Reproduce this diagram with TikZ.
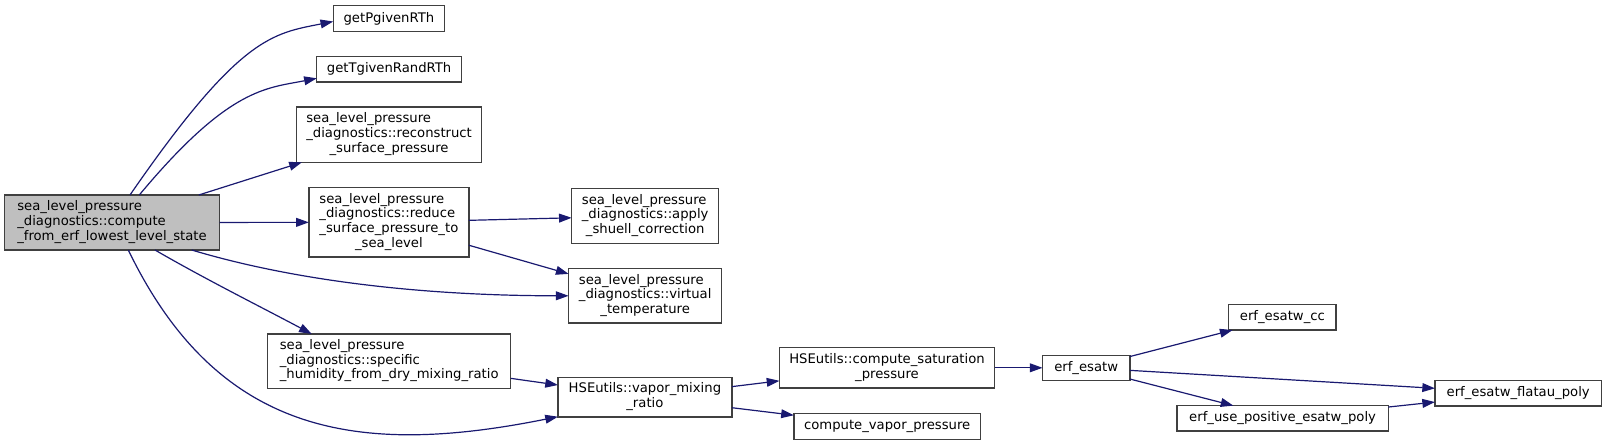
\documentclass[tikz,border=0pt]{standalone}
\usepackage{fontspec}
\setmainfont{DejaVu Sans}
\usetikzlibrary{arrows.meta,calc}
\definecolor{edgeblue}{HTML}{191970}
\definecolor{boxline}{HTML}{404040}
\definecolor{rootfill}{HTML}{BFBFBF}
\newcommand{\mlab}[2]{\begin{tabular}{@{}l@{}}#1\\\multicolumn{1}{@{}c@{}}{#2}\end{tabular}}
\tikzset{
  fn/.style={draw=boxline, line width=1pt, fill=white, inner sep=0pt, outer sep=0pt,
    font=\fontsize{9.9}{11.06}\selectfont, align=center},
  root/.style={fn, fill=rootfill},
  call/.style={draw=edgeblue, line width=0.9pt, -{Triangle[length=9.5pt,width=6.6pt]}}
}
\begin{document}
\begin{tikzpicture}[x=0.75pt,y=-0.75pt]
\useasboundingbox (0,0) rectangle (1607,445);
% nodes (screen px coordinates)
\node[root, minimum width=215*0.75pt, minimum height=55*0.75pt] (main) at (112,222.5)
  {\mlab{sea\_level\_pressure\\\_diagnostics::compute}{\_from\_erf\_lowest\_level\_state}};
\node[fn, minimum width=111.4*0.75pt, minimum height=26*0.75pt] (getP) at (388.9,18.7) {getPgivenRTh};
\node[fn, minimum width=144.6*0.75pt, minimum height=25.3*0.75pt] (getT) at (389.1,69.3) {getTgivenRandRTh};
\node[fn, minimum width=184.6*0.75pt, minimum height=55.3*0.75pt] (recon) at (389.1,134.7)
  {\mlab{sea\_level\_pressure\\\_diagnostics::reconstruct}{\_surface\_pressure}};
\node[fn, minimum width=160*0.75pt, minimum height=69.3*0.75pt] (reduce) at (388.9,222.3)
  {\mlab{sea\_level\_pressure\\\_diagnostics::reduce\\\_surface\_pressure\_to}{\_sea\_level}};
\node[fn, minimum width=243*0.75pt, minimum height=54.7*0.75pt] (spec) at (389.2,361.3)
  {\mlab{sea\_level\_pressure\\\_diagnostics::specific}{\_humidity\_from\_dry\_mixing\_ratio}};
\node[fn, minimum width=147*0.75pt, minimum height=54.7*0.75pt] (apply) at (645.2,216)
  {\mlab{sea\_level\_pressure\\\_diagnostics::apply}{\_shuell\_correction}};
\node[fn, minimum width=153.2*0.75pt, minimum height=54.3*0.75pt] (virt) at (645.2,295.8)
  {\mlab{sea\_level\_pressure\\\_diagnostics::virtual}{\_temperature}};
\node[fn, minimum width=173.9*0.75pt, minimum height=39.7*0.75pt] (vmix) at (644.9,397.2)
  {\mlab{HSEutils::vapor\_mixing}{\_ratio}};
\node[fn, minimum width=215.2*0.75pt, minimum height=40.3*0.75pt] (sat) at (887,367.8)
  {\mlab{HSEutils::compute\_saturation}{\_pressure}};
\node[fn, minimum width=186.7*0.75pt, minimum height=25.7*0.75pt] (cvp) at (887.2,426.5) {compute\_vapor\_pressure};
\node[fn, minimum width=87.3*0.75pt, minimum height=25*0.75pt] (esatw) at (1086.2,367.8) {erf\_esatw};
\node[fn, minimum width=107.2*0.75pt, minimum height=25.7*0.75pt] (cc) at (1282.4,317.2) {erf\_esatw\_cc};
\node[fn, minimum width=166.4*0.75pt, minimum height=25.7*0.75pt] (flatau) at (1518.2,393.2) {erf\_esatw\_flatau\_poly};
\node[fn, minimum width=211.4*0.75pt, minimum height=25.3*0.75pt] (usepos) at (1282.6,418.3) {erf\_use\_positive\_esatw\_poly};
% curved connectors from the root
\draw[call] ($(main.north)+(18,0)$) .. controls (240,35.5) and (273,33.5) .. ($(getP.west)+(0,2.8)$);
\draw[call] ($(main.north)+(27.3,0)$) .. controls (229.3,87) and (266.7,88.3) .. ($(getT.west)+(0,9)$);
\draw[call] ($(main.south)+(79.7,0)$) .. controls (291.7,280) and (418.3,295.7) .. (virt.west);
\draw[call] ($(main.south)+(43,0)$) .. controls (205,279) and (261.7,307.3) .. ($(spec.north)+(-77.5,0)$);
\draw[call] ($(main.south)+(16.3,0)$) .. controls (218.3,436.3) and (359.3,456.7) .. ($(vmix.west)+(0,19.5)$);
% straight connectors
\draw[call] (main) -- (recon);
\draw[call] (main) -- (reduce);
\draw[call] (reduce) -- (apply);
\draw[call] (reduce) -- (virt);
\draw[call] (spec) -- (vmix);
\draw[call] (vmix) -- (sat);
\draw[call] (vmix) -- (cvp);
\draw[call] (sat) -- (esatw);
\draw[call] (esatw) -- (cc);
\draw[call] (esatw) -- (flatau);
\draw[call] (esatw) -- (usepos);
\draw[call] (usepos) -- (flatau);
\end{tikzpicture}
\end{document}
